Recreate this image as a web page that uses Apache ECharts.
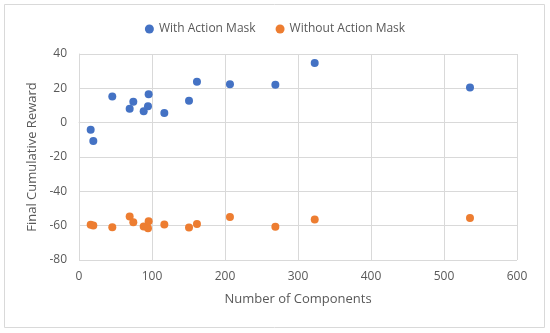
<!DOCTYPE html>
<html><head><meta charset="utf-8">
<script src="https://cdn.jsdelivr.net/npm/echarts@6/dist/echarts.min.js"></script>
<style>html,body{margin:0;padding:0;background:#fff}#c{width:550px;height:333px}</style>
</head><body><div id="c"></div>
<script>
var components = [16, 19.6, 45.6, 69.4, 74.4, 88.6, 94.5, 95.4, 116.9, 150.7, 161.6, 206.8, 269, 322.9, 535.6];
var withMask = [-4.1, -10.7, 15.3, 8.1, 12.2, 6.6, 9.5, 16.5, 5.6, 12.8, 23.8, 22.4, 22.1, 34.7, 20.5];
var componentsNoMask = [16, 19.6, 45.6, 69.4, 74.4, 88.6, 94.5, 95.4, 116.9, 150.7, 161.6, 206.8, 269, 322.9, 535.6];
var withoutMask = [-59.5, -59.9, -60.9, -54.7, -58, -60.5, -61.5, -57.4, -59.3, -61, -59, -54.9, -60.7, -56.4, -55.6];
var seriesNames = ['With Action Mask', 'Without Action Mask'];
var xAxisTitle = 'Number of Components';
var yAxisTitle = 'Final Cumulative Reward';

function pairs(xs, ys){ return xs.map(function(x,i){ return [x, ys[i]]; }); }
var font = '"Open Sans", sans-serif';
var chart = echarts.init(document.getElementById('c'));
chart.setOption({
  animation: false,
  textStyle: {fontFamily: font},
  graphic: [{type:'rect', shape:{x:4.5,y:4.5,width:540,height:323}, style:{fill:'none', stroke:'#d9d9d9', lineWidth:1}}],
  legend: {top: 18, left: 'center', itemWidth: 9, itemHeight: 9, itemGap: 20,
    icon: 'circle', textStyle:{fontFamily: font, fontSize: 12, color:'#595959'}, data: seriesNames},
  grid: {left: 79, right: 33, top: 54, bottom: 73},
  xAxis: {type:'value', min:0, max:600, interval:100,
    name: xAxisTitle, nameLocation:'middle', nameGap: 33,
    nameTextStyle:{fontFamily: font, fontSize: 13, color:'#595959'},
    axisLine:{show:true, lineStyle:{color:'#d9d9d9'}}, axisTick:{show:false},
    axisLabel:{fontFamily: font, fontSize: 12, color:'#595959', margin: 11},
    splitLine:{show:true, lineStyle:{color:'#d9d9d9'}}},
  yAxis: {type:'value', min:-80, max:40, interval:20,
    name: yAxisTitle, nameLocation:'middle', nameGap: 38,
    nameTextStyle:{fontFamily: font, fontSize: 13, color:'#595959'},
    axisLine:{show:true, lineStyle:{color:'#d9d9d9'}}, axisTick:{show:false},
    axisLabel:{fontFamily: font, fontSize: 12, color:'#595959', margin: 12},
    splitLine:{show:true, lineStyle:{color:'#d9d9d9'}}},
  series: [
    {name: seriesNames[0], type:'scatter', symbolSize: 8, itemStyle:{color:'#4472C4', opacity:1}, data: pairs(components, withMask)},
    {name: seriesNames[1], type:'scatter', symbolSize: 8, itemStyle:{color:'#ED7D31', opacity:1}, data: pairs(componentsNoMask, withoutMask)}
  ]
});
</script></body></html>
